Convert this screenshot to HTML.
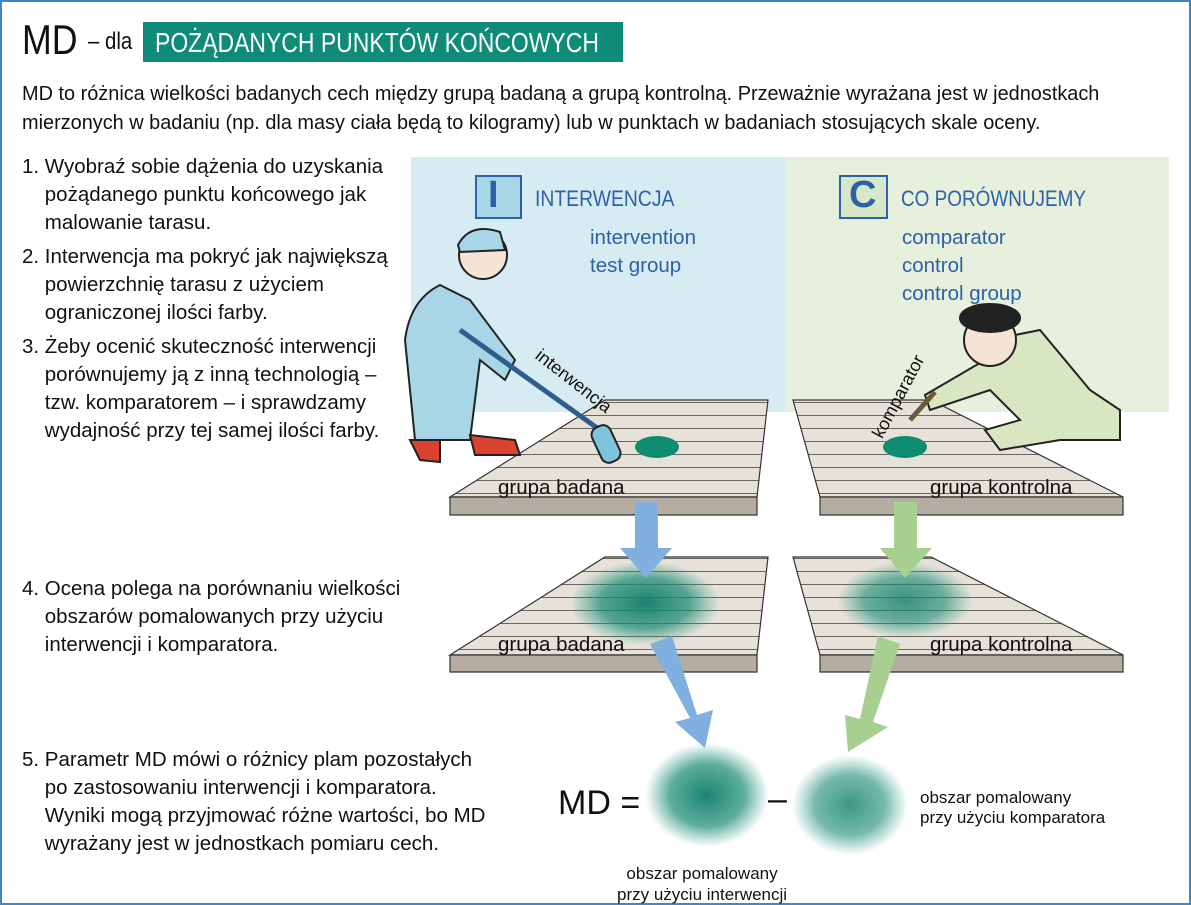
<!DOCTYPE html>
<html><head><meta charset="utf-8"><style>
html,body{margin:0;padding:0;background:#fff}
body{width:1191px;height:905px;overflow:hidden;position:relative;font-family:"Liberation Sans",sans-serif}
.t{position:absolute;white-space:nowrap;color:#111}
</style></head><body>
<svg width="1191" height="905" style="position:absolute;left:0;top:0" xmlns="http://www.w3.org/2000/svg">
<defs>
<pattern id="pl" width="10" height="13" patternUnits="userSpaceOnUse"><rect width="10" height="13" fill="#e6e2da"/><line x1="0" y1="12.5" x2="10" y2="12.5" stroke="#6a6660" stroke-width="1"/></pattern>
<radialGradient id="sp"><stop offset="0" stop-color="#0f7e68" stop-opacity="0.95"/><stop offset="0.6" stop-color="#178a72" stop-opacity="0.7"/><stop offset="1" stop-color="#2a9a80" stop-opacity="0"/></radialGradient>
</defs>
<rect x="1" y="1" width="1189" height="903" fill="none" stroke="#3f86c6" stroke-width="2"/>
<rect x="143" y="22" width="480" height="40" fill="#0e8c78"/>
<rect x="411" y="157" width="374" height="255" fill="#d7ebf2"/>
<rect x="785" y="157" width="384" height="255" fill="#e6f0dc"/>
<rect x="476" y="176" width="45" height="42" fill="#a9d6e6" stroke="#2d62a8" stroke-width="2"/>
<rect x="840" y="176" width="47" height="42" fill="#d7e8c8" stroke="#2d62a8" stroke-width="2"/>
<g stroke="#333" stroke-width="1.2">
<polygon points="605,400 768,400 757,497 450,497" fill="url(#pl)"/>
<polygon points="450,497 757,497 757,515 450,515" fill="#b5ada2"/>
<polygon points="793,400 931,400 1123,497 820,497" fill="url(#pl)"/>
<polygon points="820,497 1123,497 1123,515 820,515" fill="#b5ada2"/>
<polygon points="605,557 768,557 757,655 450,655" fill="url(#pl)"/>
<polygon points="450,655 757,655 757,672 450,672" fill="#b5ada2"/>
<polygon points="793,557 931,557 1123,655 820,655" fill="url(#pl)"/>
<polygon points="820,655 1123,655 1123,672 820,672" fill="#b5ada2"/>
</g>
<ellipse cx="657" cy="447" rx="22" ry="11" fill="#0e8c70"/>
<ellipse cx="905" cy="447" rx="22" ry="11" fill="#0e8c70"/>
<ellipse cx="645" cy="603" rx="75" ry="42" fill="url(#sp)"/>
<ellipse cx="905" cy="600" rx="68" ry="38" fill="url(#sp)" opacity="0.85"/>
<ellipse cx="707" cy="795" rx="62" ry="52" fill="url(#sp)"/>
<ellipse cx="850" cy="805" rx="58" ry="50" fill="url(#sp)" opacity="0.85"/>
<polygon points="635,502 658,502 658,548 672,548 646,578 620,548 635,548" fill="#7fb0e0"/>
<polygon points="894,502 917,502 917,548 932,548 905,578 880,548 894,548" fill="#a6cf90"/>
<polygon points="650,644 672,636 697,715 713,710 705,748 675,722 690,718" fill="#7fb0e0"/>
<polygon points="878,636 900,644 873,722 888,727 848,752 845,715 860,719" fill="#a6cf90"/>
<g stroke="#222" stroke-width="2">
<path d="M440,285 Q410,300 405,340 L415,440 L470,440 L480,360 L505,380 L515,360 L470,300 Z" fill="#a9d6e6"/>
<circle cx="483" cy="255" r="24" fill="#f3e4d6"/>
<path d="M458,245 Q470,222 500,232 L505,250 L460,252Z" fill="#a9d6e6"/>
<line x1="460" y1="330" x2="600" y2="430" stroke="#2d5f8e" stroke-width="5"/>
<rect x="596" y="425" width="20" height="38" rx="8" transform="rotate(-25 606 444)" fill="#7fc4de"/>
<path d="M410,440 L420,460 L440,462 L440,440Z" fill="#d9432f"/>
<path d="M470,435 L475,455 L520,455 L515,440Z" fill="#d9432f"/>
</g>
<g stroke="#222" stroke-width="2">
<path d="M990,340 L1040,330 L1090,390 L1120,410 L1120,440 L1060,440 L1000,450 L985,430 L1020,420 L990,390 L930,410 L925,395 L985,360Z" fill="#d8e6c2"/>
<circle cx="990" cy="340" r="26" fill="#f3e4d6"/>
<ellipse cx="990" cy="318" rx="30" ry="14" fill="#222"/>
<line x1="935" y1="392" x2="910" y2="420" stroke="#6b5a3a" stroke-width="5"/>
</g>
</svg>

<div class="t" style="left:22px;top:16px;font-size:42px;transform:scaleX(0.85);transform-origin:0 0">MD</div>
<div class="t" style="left:88px;top:28px;font-size:24px;transform:scaleX(0.85);transform-origin:0 0">– dla</div>
<div class="t" style="left:155px;top:27px;font-size:28px;color:#fff;transform:scaleX(0.82);transform-origin:0 0">POŻĄDANYCH PUNKTÓW KOŃCOWYCH</div>
<div class="t" style="left:22px;top:80px;font-size:20px;line-height:29px;transform:scaleX(0.995);transform-origin:0 0">MD to różnica wielkości badanych cech między grupą badaną a grupą kontrolną. Przeważnie wyrażana jest w jednostkach<br>mierzonych w badaniu (np. dla masy ciała będą to kilogramy) lub w punktach w badaniach stosujących skale oceny.</div>
<div class="t" style="left:22px;top:153px;font-size:20.5px;line-height:28px">1. Wyobraź sobie dążenia do uzyskania<br>&nbsp;&nbsp;&nbsp;&nbsp;pożądanego punktu końcowego jak<br>&nbsp;&nbsp;&nbsp;&nbsp;malowanie tarasu.</div>
<div class="t" style="left:22px;top:243px;font-size:20.5px;line-height:28px">2. Interwencja ma pokryć jak największą<br>&nbsp;&nbsp;&nbsp;&nbsp;powierzchnię tarasu z użyciem<br>&nbsp;&nbsp;&nbsp;&nbsp;ograniczonej ilości farby.</div>
<div class="t" style="left:22px;top:333px;font-size:20.5px;line-height:28px">3. Żeby ocenić skuteczność interwencji<br>&nbsp;&nbsp;&nbsp;&nbsp;porównujemy ją z inną technologią –<br>&nbsp;&nbsp;&nbsp;&nbsp;tzw. komparatorem – i sprawdzamy<br>&nbsp;&nbsp;&nbsp;&nbsp;wydajność przy tej samej ilości farby.</div>
<div class="t" style="left:22px;top:575px;font-size:20.5px;line-height:28px">4. Ocena polega na porównaniu wielkości<br>&nbsp;&nbsp;&nbsp;&nbsp;obszarów pomalowanych przy użyciu<br>&nbsp;&nbsp;&nbsp;&nbsp;interwencji i komparatora.</div>
<div class="t" style="left:22px;top:746px;font-size:20.5px;line-height:28px">5. Parametr MD mówi o różnicy plam pozostałych<br>&nbsp;&nbsp;&nbsp;&nbsp;po zastosowaniu interwencji i komparatora.<br>&nbsp;&nbsp;&nbsp;&nbsp;Wyniki mogą przyjmować różne wartości, bo MD<br>&nbsp;&nbsp;&nbsp;&nbsp;wyrażany jest w jednostkach pomiaru cech.</div>
<div class="t" style="left:488px;top:174px;font-size:38px;color:#2d62a8;font-weight:bold">I</div>
<div class="t" style="left:849px;top:174px;font-size:38px;color:#2d62a8;font-weight:bold">C</div>
<div class="t" style="left:535px;top:186px;font-size:22px;color:#2d62a8;transform:scaleX(0.88);transform-origin:0 0">INTERWENCJA</div>
<div class="t" style="left:901px;top:186px;font-size:22px;color:#2d62a8;transform:scaleX(0.86);transform-origin:0 0">CO PORÓWNUJEMY</div>
<div class="t" style="left:590px;top:224px;font-size:20.5px;line-height:28px;color:#2d62a8">intervention<br>test group</div>
<div class="t" style="left:902px;top:224px;font-size:20.5px;line-height:28px;color:#2d62a8">comparator<br>control<br>control group</div>
<div class="t" style="left:544px;top:345px;font-size:18px;transform:rotate(38deg);transform-origin:0 0">interwencja</div>
<div class="t" style="left:868px;top:432px;font-size:18px;transform:rotate(-62deg);transform-origin:0 0">komparator</div>
<div class="t" style="left:498px;top:476px;font-size:20.5px">grupa badana</div>
<div class="t" style="left:930px;top:476px;font-size:20.5px">grupa kontrolna</div>
<div class="t" style="left:498px;top:633px;font-size:20.5px">grupa badana</div>
<div class="t" style="left:930px;top:633px;font-size:20.5px">grupa kontrolna</div>
<div class="t" style="left:558px;top:784px;font-size:34px">MD =</div>
<div class="t" style="left:768px;top:780px;font-size:34px">–</div>
<div class="t" style="left:920px;top:788px;font-size:17px;line-height:20px">obszar pomalowany<br>przy użyciu komparatora</div>
<div class="t" style="left:617px;top:863px;font-size:17px;line-height:21px;text-align:center">obszar pomalowany<br>przy użyciu interwencji</div>
</body></html>
